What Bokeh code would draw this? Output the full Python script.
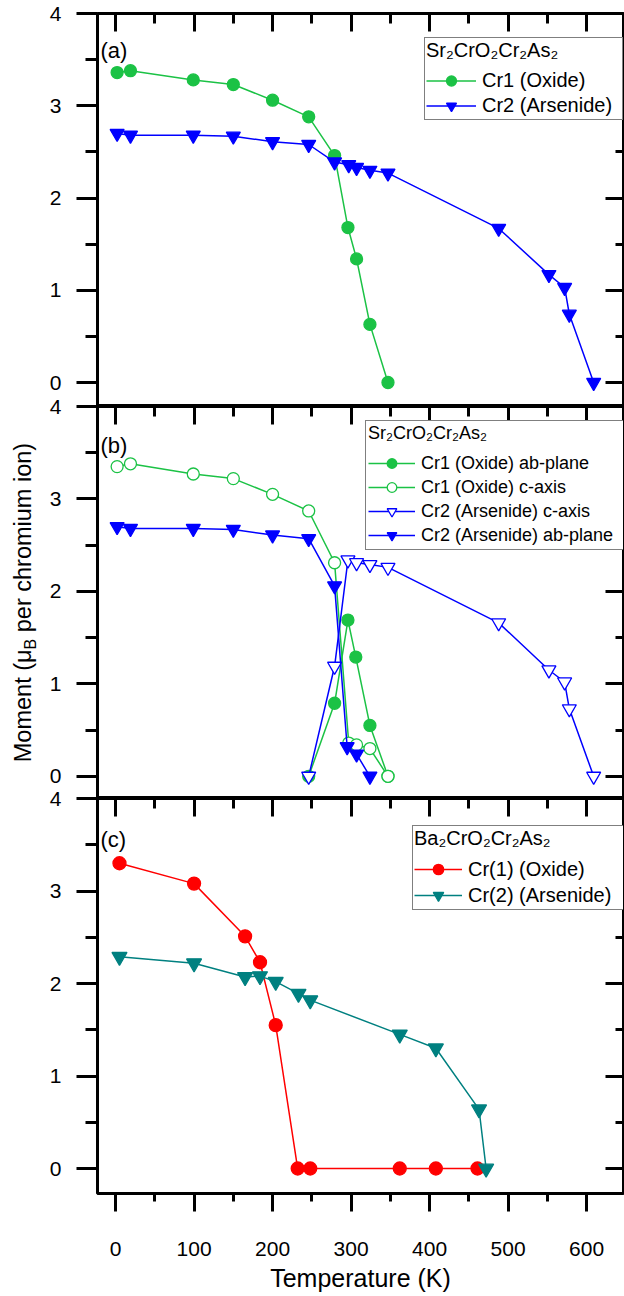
import math
from bokeh.plotting import figure
from bokeh.models import Range1d, FixedTicker, LinearAxis, Legend, LegendItem, Label
from bokeh.layouts import column, row
from bokeh.embed import file_html
from bokeh.resources import INLINE

# ---------------- data ----------------
# Panel (a) Sr2CrO2Cr2As2
a_oxide_T = [2, 19, 99, 150, 200, 246, 279, 296, 307, 324, 347]
a_oxide_M = [3.36, 3.38, 3.28, 3.23, 3.06, 2.88, 2.46, 1.68, 1.34, 0.63, 0.0]
a_ars_T = [2, 19, 99, 150, 200, 246, 279, 297, 307, 324, 347, 488, 552, 572, 578, 609]
a_ars_M = [2.70, 2.68, 2.68, 2.67, 2.61, 2.58, 2.39, 2.36, 2.33, 2.30, 2.27, 1.67, 1.17, 1.03, 0.74, 0.0]

# Panel (b) Sr2CrO2Cr2As2, ab-plane / c-axis components
b_ox_ab_T = [246, 279, 296, 306, 324, 347]
b_ox_ab_M = [0.0, 0.79, 1.69, 1.29, 0.55, 0.0]
b_ox_c_T = [2, 19, 99, 150, 200, 246, 279, 297, 307, 324, 347]
b_ox_c_M = [3.35, 3.38, 3.27, 3.22, 3.05, 2.87, 2.31, 0.36, 0.34, 0.30, 0.0]
b_ars_c_T = [246, 279, 296, 307, 324, 347, 488, 552, 572, 578, 609]
b_ars_c_M = [0.0, 1.19, 2.34, 2.31, 2.29, 2.26, 1.66, 1.15, 1.02, 0.73, 0.0]
b_ars_ab_T = [2, 19, 99, 150, 200, 246, 279, 295, 307, 324]
b_ars_ab_M = [2.70, 2.68, 2.68, 2.67, 2.61, 2.57, 2.06, 0.32, 0.24, 0.0]

# Panel (c) Ba2CrO2Cr2As2
c_ox_T = [5, 100, 165, 184, 204, 232, 248, 362, 408, 461]
c_ox_M = [3.30, 3.08, 2.51, 2.23, 1.55, 0.0, 0.0, 0.0, 0.0, 0.0]
c_ars_T = [5, 100, 165, 184, 204, 233, 248, 362, 408, 463, 472]
c_ars_M = [2.29, 2.22, 2.07, 2.08, 2.02, 1.89, 1.82, 1.45, 1.30, 0.64, 0.0]

x_ticks = [0, 100, 200, 300, 400, 500, 600]
x_minor = [50, 150, 250, 350, 450, 550]
y_ticks = [0, 1, 2, 3, 4]
y_minor = [0.5, 1.5, 2.5, 3.5]

title_sr = "Sr\u2082CrO\u2082Cr\u2082As\u2082"
title_ba = "Ba\u2082CrO\u2082Cr\u2082As\u2082"

# ---------------- style ----------------
FONT = "Liberation Sans"
GREEN = "#1BC245"
BLUE = "#0000FF"
RED = "#FF0000"
TEAL = "#008080"

TW = 40          # width of the strip holding the y-axis title
PW = 624 - TW    # width of each panel figure
OVER = 13        # overlap between stacked panels (room for the "4" label)

x_range = Range1d(-23, 647)


def make_panel(height, y_start, top_border, bottom_border, overlap):
    p = figure(width=PW, height=height, x_range=x_range,
               y_range=Range1d(y_start, 4.0),
               output_backend="svg", toolbar_location=None,
               x_axis_location=None,
               min_border_left=97 - TW, min_border_right=1,
               min_border_top=top_border, min_border_bottom=bottom_border)
    if overlap:
        p.margin = (-overlap, 0, 0, 0)
    p.xgrid.visible = False
    p.ygrid.visible = False
    p.outline_line_color = "black"
    p.outline_line_width = 3
    p.background_fill_color = "white"
    p.border_fill_alpha = 0.0

    ya = p.yaxis[0]
    ya.ticker = FixedTicker(ticks=y_ticks, minor_ticks=y_minor)
    ya.major_tick_out = 21
    ya.major_tick_in = 0
    ya.minor_tick_out = 12
    ya.minor_tick_in = 0
    ya.major_tick_line_width = 3
    ya.minor_tick_line_width = 3
    ya.major_tick_line_color = "black"
    ya.minor_tick_line_color = "black"
    ya.axis_line_color = None
    ya.major_label_text_font = FONT
    ya.major_label_text_font_size = "21px"
    ya.major_label_text_color = "black"
    ya.major_label_standoff = 15

    top = LinearAxis(ticker=FixedTicker(ticks=x_ticks, minor_ticks=x_minor),
                     major_tick_in=18, major_tick_out=0,
                     minor_tick_in=10, minor_tick_out=0,
                     major_tick_line_width=3, minor_tick_line_width=3,
                     axis_line_color=None, major_label_standoff=0,
                     major_label_text_color=None)
    p.add_layout(top, "above")

    right = LinearAxis(ticker=FixedTicker(ticks=y_ticks, minor_ticks=y_minor),
                       major_tick_in=18, major_tick_out=0,
                       minor_tick_in=8, minor_tick_out=0,
                       major_tick_line_width=3, minor_tick_line_width=3,
                       axis_line_color=None, major_label_standoff=0,
                       major_label_text_color=None)
    p.add_layout(right, "right")
    return p


def series(p, xs, ys, color, marker, size, filled):
    ln = p.line(xs, ys, line_color=color, line_width=1.5)
    sc = p.scatter(xs, ys, marker=marker, size=size,
                   fill_color=color if filled else "white",
                   line_color=color, line_width=1.3)
    return [ln, sc]


def make_legend(items, title, loc, font_size, title_size, glyph_w, label_w,
                row_h, standoff, padding):
    lg = Legend(items=items, location=loc, title=title,
                title_text_font=FONT, title_text_font_size=title_size,
                title_text_font_style="normal", title_text_color="black",
                title_standoff=standoff,
                label_text_font=FONT, label_text_font_size=font_size,
                label_text_color="black",
                glyph_width=glyph_w, glyph_height=row_h,
                label_height=row_h, label_width=label_w, label_standoff=6,
                padding=padding, spacing=0, margin=0,
                border_line_color="black", border_line_width=1.5,
                background_fill_color="white", background_fill_alpha=1.0)
    return lg


def panel_label(p, text, y):
    p.add_layout(Label(x=3, y=y, x_units="screen", y_units="screen", text=text,
                       text_font=FONT, text_font_size="22px", text_color="black",
                       text_baseline="top", text_align="left"))


# ---------------- panel (a) ----------------
pa = make_panel(406, -0.26, 13, 0, 0)
ra1 = series(pa, a_oxide_T, a_oxide_M, GREEN, "circle", 12, True)
ra2 = series(pa, a_ars_T, a_ars_M, BLUE, "inverted_triangle", 14, True)
pa.add_layout(make_legend([LegendItem(label="Cr1 (Oxide)", renderers=ra1),
                           LegendItem(label="Cr2 (Arsenide)", renderers=ra2)],
                          title_sr, (327, 286), "20px", "20px", 50, 139, 25, 6, 1))
panel_label(pa, "(a)", 393 - 24)

# ---------------- panel (b) ----------------
pb = make_panel(392 + OVER, -0.24, OVER, 0, OVER)
rb1 = series(pb, b_ox_ab_T, b_ox_ab_M, GREEN, "circle", 12, True)
rb2 = series(pb, b_ox_c_T, b_ox_c_M, GREEN, "circle", 12, False)
rb3 = series(pb, b_ars_c_T, b_ars_c_M, BLUE, "inverted_triangle", 14, False)
rb4 = series(pb, b_ars_ab_T, b_ars_ab_M, BLUE, "inverted_triangle", 14, True)
pb.add_layout(make_legend([LegendItem(label="Cr1 (Oxide) ab-plane", renderers=rb1),
                           LegendItem(label="Cr1 (Oxide) c-axis", renderers=rb2),
                           LegendItem(label="Cr2 (Arsenide) c-axis", renderers=rb3),
                           LegendItem(label="Cr2 (Arsenide) ab-plane", renderers=rb4)],
                          title_sr, (268, 248), "18px", "18px", 47, 200, 24, 7, 2))
panel_label(pb, "(b)", 392 - 26)

# ---------------- panel (c) ----------------
pc = make_panel(498 + OVER, -0.27, OVER, 103, OVER)
rc1 = series(pc, c_ox_T, c_ox_M, RED, "circle", 13, True)
rc2 = series(pc, c_ars_T, c_ars_M, TEAL, "inverted_triangle", 15, True)
pc.add_layout(make_legend([LegendItem(label="Cr(1) (Oxide)", renderers=rc1),
                           LegendItem(label="Cr(2) (Arsenide)", renderers=rc2)],
                          title_ba, (315, 283), "20px", "20px", 48, 155, 26, 6, 1))
panel_label(pc, "(c)", 395 - 28)

xa = LinearAxis(ticker=FixedTicker(ticks=x_ticks, minor_ticks=x_minor),
                major_tick_out=18, major_tick_in=0,
                minor_tick_out=8, minor_tick_in=0,
                major_tick_line_width=3, minor_tick_line_width=3,
                major_tick_line_color="black", minor_tick_line_color="black",
                axis_line_color=None,
                major_label_text_font=FONT, major_label_text_font_size="21px",
                major_label_text_color="black", major_label_standoff=30,
                axis_label="Temperature (K)", axis_label_text_font=FONT,
                axis_label_text_font_size="25px", axis_label_text_font_style="normal",
                axis_label_text_color="black", axis_label_standoff=5)
pc.add_layout(xa, "below")

# ---------------- y-axis title strip ----------------
pt = figure(width=TW, height=1296, x_range=Range1d(0, 1), y_range=Range1d(0, 1),
            output_backend="svg", toolbar_location=None,
            x_axis_location=None, y_axis_location=None,
            min_border_left=0, min_border_right=0, min_border_top=0, min_border_bottom=0)
pt.xgrid.visible = False
pt.ygrid.visible = False
pt.outline_line_color = None

fs_main = 23.5
fs_sub = 16
y_center = 1296 - 602
w1 = 4.80 * fs_main
wB = 0.667 * fs_sub
w3 = 8.06 * fs_main
wsp = 0.278 * fs_main
total = w1 + wB + wsp + w3
y0 = y_center - total / 2
for txt, yy, xx, fs in [("Moment (\u03bc", y0, 22, fs_main),
                        ("B", y0 + w1, 30, fs_sub),
                        ("per chromium ion)", y0 + w1 + wB + wsp, 22, fs_main)]:
    pt.add_layout(Label(x=xx, y=yy, x_units="screen", y_units="screen", text=txt,
                        angle=math.pi / 2, text_align="left", text_baseline="middle",
                        text_font=FONT, text_font_size=f"{fs}px", text_color="black"))

layout = row(pt, column(pa, pb, pc, spacing=0), spacing=0)
open("out.html", "w").write(file_html(layout, INLINE))
